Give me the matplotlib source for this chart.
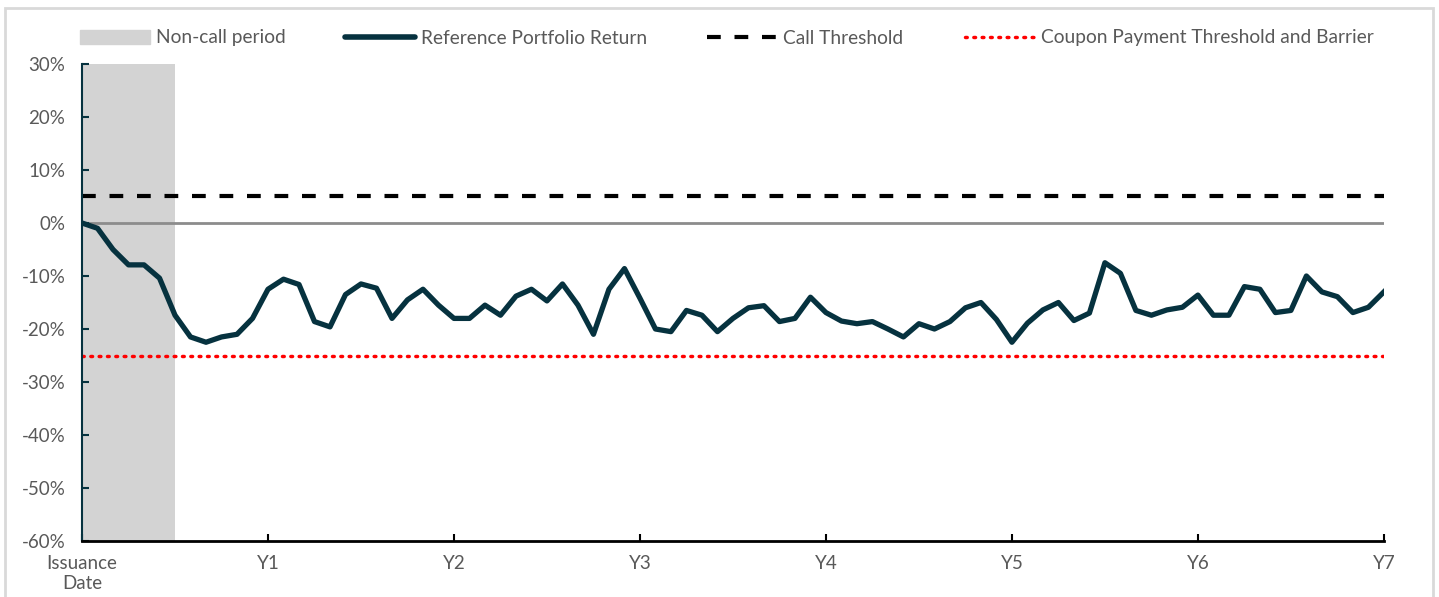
import matplotlib
matplotlib.use("Agg")
import matplotlib.pyplot as plt
from matplotlib.patches import Rectangle
from matplotlib.lines import Line2D
import numpy as np

# monthly observations, month 0 = issuance date
months = np.arange(0, 85)
portfolio_return = [
    0.0, -1.0, -5.0, -7.9, -7.9, -10.4, -17.4, -21.5, -22.5, -21.5,
    -21.0, -18.0, -12.5, -10.6, -11.6, -18.6, -19.6, -13.5, -11.5, -12.3,
    -18.0, -14.5, -12.5, -15.5, -18.0, -18.0, -15.5, -17.4, -13.8, -12.5,
    -14.7, -11.5, -15.5, -21.0, -12.5, -8.6, -14.2, -20.0, -20.5, -16.5,
    -17.4, -20.5, -18.0, -16.0, -15.6, -18.6, -18.0, -14.0, -16.9, -18.5,
    -19.0, -18.6, -20.0, -21.5, -19.0, -20.0, -18.6, -16.0, -15.0, -18.2,
    -22.5, -18.9, -16.4, -15.0, -18.4, -17.0, -7.5, -9.5, -16.5, -17.4,
    -16.4, -15.9, -13.6, -17.4, -17.4, -12.0, -12.5, -16.9, -16.5, -10.0,
    -13.0, -13.9, -16.9, -15.9, -13.0,
]
call_threshold = 5.0
coupon_barrier = -25.0
non_call_months = 6

x_ticks = [0, 12, 24, 36, 48, 60, 72, 84]
x_labels = ["Issuance\nDate", "Y1", "Y2", "Y3", "Y4", "Y5", "Y6", "Y7"]
y_ticks = [30, 20, 10, 0, -10, -20, -30, -40, -50, -60]

plt.rcParams["font.family"] = ["Lato", "DejaVu Sans"]

text_c = "#595959"
navy = "#06323f"
grey_fill = "#d3d3d3"
dash_style = (0, (3.3, 3.3))
dot_style = (0, (0.5, 1.9))

fig = plt.figure(figsize=(14.39, 5.97), dpi=100)
ax = fig.add_axes([0.057, 0.0938, 0.9047, 0.799])

ax.axvspan(0, non_call_months, color=grey_fill, lw=0, zorder=0)
ax.axhline(0, color="#8c8c8c", lw=2, zorder=1)
ax.axhline(call_threshold, color="black", lw=3, ls=dash_style, zorder=2)
ax.axhline(coupon_barrier, color="#ff0000", lw=2.5, ls=dot_style,
           dash_capstyle="round", zorder=2)
ax.plot(months, portfolio_return, color=navy, lw=3.8, zorder=3)

ax.set_xlim(0, 84)
ax.set_ylim(-60, 30)
ax.set_xticks(x_ticks)
ax.set_xticklabels(x_labels)
ax.set_yticks(y_ticks)
ax.set_yticklabels([f"{v}%" for v in y_ticks])

for s in ["top", "right"]:
    ax.spines[s].set_visible(False)
ax.spines["left"].set_color(navy)
ax.spines["left"].set_linewidth(1.5)
ax.spines["bottom"].set_color("black")
ax.spines["bottom"].set_linewidth(2)
ax.tick_params(axis="y", direction="in", length=5, width=1.5, color=navy,
               labelsize=13.5, labelcolor=text_c, pad=12)
ax.tick_params(axis="x", direction="in", length=5, width=1.5, color="black",
               labelsize=13.5, labelcolor=text_c, pad=10)

# legend entries placed one by one across the top
entries = [
    (Rectangle((0, 0), 1, 1, color=grey_fill), "Non-call period", 80),
    (Line2D([], [], color=navy, lw=4, solid_capstyle="round"),
     "Reference Portfolio Return", 345),
    (Line2D([], [], color="black", lw=3, ls=dash_style), "Call Threshold", 707),
    (Line2D([], [], color="#ff0000", lw=2.5, ls=dot_style, dash_capstyle="round"),
     "Coupon Payment Threshold and Barrier", 965),
]
W, H = 1439, 597
for h, lab, xpx in entries:
    leg = fig.legend([h], [lab], loc="center left",
                     bbox_to_anchor=(xpx / W, 1 - 38 / H), frameon=False,
                     fontsize=13.8, handlelength=3.65, handletextpad=0.3,
                     borderpad=0, borderaxespad=0, handleheight=0.8)
    leg.get_texts()[0].set_color(text_c)

fig.patches.append(Rectangle((0.0035, -0.05), 0.9925, 1.037, transform=fig.transFigure,
                             fill=False, edgecolor="#d9d9d9", lw=2))

fig.savefig("out.png", dpi=100)
